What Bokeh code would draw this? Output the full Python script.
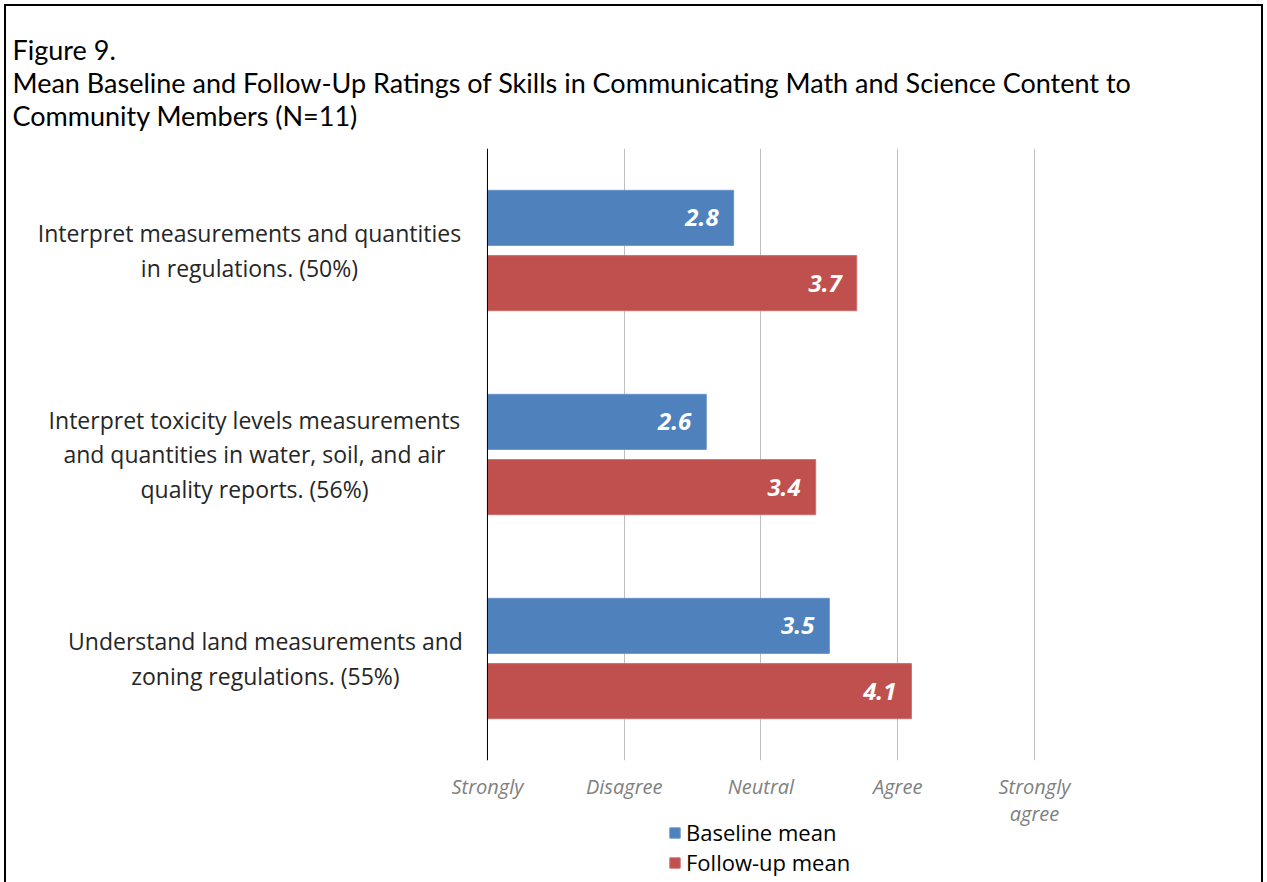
from bokeh.plotting import figure
from bokeh.layouts import column
from bokeh.models import (FactorRange, Range1d, FixedTicker, Span, Legend,
                          LegendItem, ColumnDataSource)
from bokeh.transform import dodge
from bokeh.core.properties import value
from bokeh.embed import file_html
from bokeh.resources import INLINE

# ---------------- data ----------------
categories = [
    "Interpret measurements and quantities\nin regulations. (50%)",
    "Interpret toxicity levels measurements\nand quantities in water, soil, and air\nquality reports. (56%)",
    "Understand land measurements and\nzoning regulations. (55%)",
]
baseline = [2.8, 2.6, 3.5]
followup = [3.7, 3.4, 4.1]
scale_ticks = [1, 2, 3, 4, 5]
scale_labels = ["Strongly", "Disagree", "Neutral", "Agree", "Strongly\nagree"]
series_names = ["Baseline mean", "Follow-up mean"]
title_lines = [
    "Figure 9.",
    "Mean Baseline and Follow-Up Ratings of Skills in Communicating Math and Science Content to",
    "Community Members (N=11)",
]

# ---------------- styling / layout ----------------
BLUE = "#4F81BD"
RED = "#C0504D"
BLUE_EDGE = "#6A95CB"
RED_EDGE = "#CD6F6C"
label_offsets = [-238, -233, -222]   # screen px shift of category labels from the axis
BAR_OFFSET = 0.16
BAR_HEIGHT = 0.27

src = ColumnDataSource(dict(
    cat=categories,
    base=baseline,
    follow=followup,
    base_lbl=[f"{v:.1f}" for v in baseline],
    follow_lbl=[f"{v:.1f}" for v in followup],
    origin=[scale_ticks[0]] * len(categories),
    xoff=label_offsets,
))

p = figure(frame_width=1255, frame_height=612,
           x_range=Range1d(-2.517, 6.66),
           y_range=FactorRange(factors=categories[::-1], range_padding=0),
           output_backend="svg", toolbar_location=None,
           min_border_left=0, min_border_right=0,
           min_border_top=142, min_border_bottom=66)
p.outline_line_color = None
p.background_fill_color = "white"
p.border_fill_color = "white"

# title
p.title.text = "\n".join(title_lines)
p.title.text_font = "Lato"
p.title.text_font_size = "27px"
p.title.text_font_style = "normal"
p.title.text_color = "black"
p.title.align = "left"
p.title.offset = 6
p.title.standoff = 33
p.title.text_line_height = 1.0

# bars
r_base = p.hbar(y=dodge("cat", BAR_OFFSET, range=p.y_range), left="origin", right="base",
                height=BAR_HEIGHT, source=src, fill_color=BLUE, line_color=BLUE_EDGE, line_width=1)
r_follow = p.hbar(y=dodge("cat", -BAR_OFFSET, range=p.y_range), left="origin", right="follow",
                  height=BAR_HEIGHT, source=src, fill_color=RED, line_color=RED_EDGE, line_width=1)

# value labels
for col, lbl, off in (("base", "base_lbl", BAR_OFFSET), ("follow", "follow_lbl", -BAR_OFFSET)):
    p.text(x=col, y=dodge("cat", off, range=p.y_range), text=lbl, source=src,
           text_align="right", text_baseline="middle", x_offset=-15,
           text_color="white", text_font=value("Open Sans"),
           text_font_style="bold italic", text_font_size="24px")

# category labels
p.text(x="origin", y="cat", text="cat", source=src, x_offset="xoff",
       text_align="center", text_baseline="middle", text_line_height=1.07,
       text_color="#262626", text_font=value("Open Sans"), text_font_size="23px")

# vertical axis line at the scale origin
p.add_layout(Span(location=scale_ticks[0], dimension="height", line_color="black", line_width=1))

# grid
p.xgrid.ticker = FixedTicker(ticks=scale_ticks)
p.xgrid.grid_line_color = "#BFBFBF"
p.ygrid.grid_line_color = None

# axes
p.yaxis.visible = False
p.xaxis.ticker = FixedTicker(ticks=scale_ticks)
p.xaxis.major_label_overrides = {t: l for t, l in zip(scale_ticks, scale_labels)}
p.xaxis.axis_line_color = None
p.xaxis.major_tick_line_color = None
p.xaxis.minor_tick_line_color = None
p.xaxis.major_tick_out = 0
p.xaxis.major_tick_in = 0
p.xaxis.major_label_standoff = 12
p.xaxis.major_label_text_font = "Open Sans"
p.xaxis.major_label_text_font_style = "italic"
p.xaxis.major_label_text_font_size = "20px"
p.xaxis.major_label_text_color = "#808080"
p.xaxis.major_label_text_line_height = 1.0

# legend strip (separate small figure holding only the legend; its helper bars
# use the same data but fall outside its view)
pl = figure(frame_width=1255, frame_height=68, x_range=Range1d(0, 1), y_range=Range1d(0, 1),
            x_axis_location=None, y_axis_location=None, output_backend="svg",
            toolbar_location=None, min_border=0)
pl.outline_line_color = None
pl.background_fill_alpha = 0
pl.border_fill_alpha = 0
pl.grid.visible = False
pl.styles = {"margin-top": "-12px"}
lg_base = pl.hbar(y="base", left="base", right="base", height=BAR_HEIGHT, source=src,
                  fill_color=BLUE, line_color=BLUE_EDGE)
lg_follow = pl.hbar(y="follow", left="follow", right="follow", height=BAR_HEIGHT, source=src,
                    fill_color=RED, line_color=RED_EDGE)
legend = Legend(items=[LegendItem(label=series_names[0], renderers=[lg_base]),
                       LegendItem(label=series_names[1], renderers=[lg_follow])],
                location=(662, 8), orientation="vertical",
                border_line_color=None, background_fill_alpha=0,
                padding=0, margin=0, spacing=0,
                glyph_width=13, glyph_height=13, label_standoff=5,
                label_text_font="Open Sans", label_text_font_size="22px",
                label_text_color="black", label_height=21)
pl.add_layout(legend, "center")

layout = column(p, pl, spacing=0,
                styles={"margin-left": "4px", "margin-top": "4px",
                        "border-left": "2px solid black", "border-right": "2px solid black",
                        "border-top": "2px solid black"})

open("out.html", "w").write(file_html(layout, INLINE))
